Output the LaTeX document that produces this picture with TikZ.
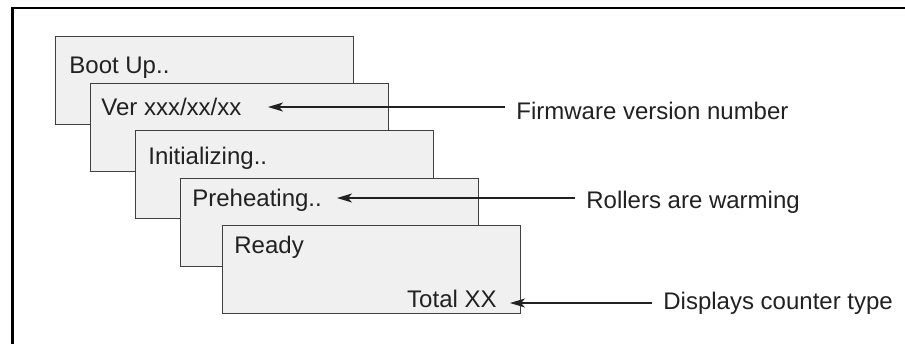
\documentclass[tikz,border=0pt]{standalone}
\usepackage{fontspec}
\setmainfont{Liberation Sans}
\usetikzlibrary{arrows.meta,
                positioning}
\definecolor{lcd_fill}{rgb}{0.94, 0.94, 0.94}
\definecolor{lcd_edge}{rgb}{0.25, 0.25, 0.25}
\definecolor{ink}{rgb}{0.13, 0.13, 0.13}

\begin{document}
\begin{tikzpicture}[
	x=0.5pt, y=-0.5pt,
	screen/.style = {draw=lcd_edge, fill=lcd_fill, line width=0.7pt,
	                 minimum width=149pt, minimum height=44pt,
	                 inner sep=0pt, anchor=north west},
	msg/.style = {text=ink, inner sep=0pt, anchor=base west,
	              font=\fontsize{12}{14}\selectfont},
	note/.style = {msg, inner xsep=5.5pt},
	pointer/.style = {-{Stealth[length=7.5pt, width=4.5pt, inset=2pt]},
	                  line width=0.8pt, draw=ink},
	]
	\clip (0,0) rectangle (905,343);
	% frame
	\draw[line width=1.2pt] (12.5,360) -- (12.5,7.8) -- (930,7.8);
	% screens, back to front
	\node[screen] (boot) at (55,36) {};
	\node[msg] (boot_t) at (69,73) {Boot Up..};
	\node[screen] (ver) at (90,83) {};
	\node[msg] (ver_t) at (101,115) {Ver xxx/xx/xx};
	\node[screen] (init) at (135,130) {};
	\node[msg] (init_t) at (148,164) {Initializing..};
	\node[screen] (heat) at (180,178) {};
	\node[msg] (heat_t) at (192,206) {Preheating..};
	\node[screen] (ready) at (222,225) {};
	\node[msg] (ready_t) at (234,253) {Ready};
	\node[msg, anchor=base east] (total_t) at (497,307) {Total XX};
	% notes
	\node[note] (fw) at (505,119) {Firmware version number};
	\node[note] (rw) at (575,208) {Rollers are warming};
	\node[note] (dc) at (652,309) {Displays counter type};
	\coordinate (fw_tip) at (268,107);
	\coordinate (rw_tip) at (337,198);
	\coordinate (dc_tip) at (510,303);
	% pointers
	\draw[pointer] (fw.west |- fw_tip) -- (fw_tip);
	\draw[pointer] (rw.west |- rw_tip) -- (rw_tip);
	\draw[pointer] (dc.west |- dc_tip) -- (dc_tip);
\end{tikzpicture}
\end{document}
